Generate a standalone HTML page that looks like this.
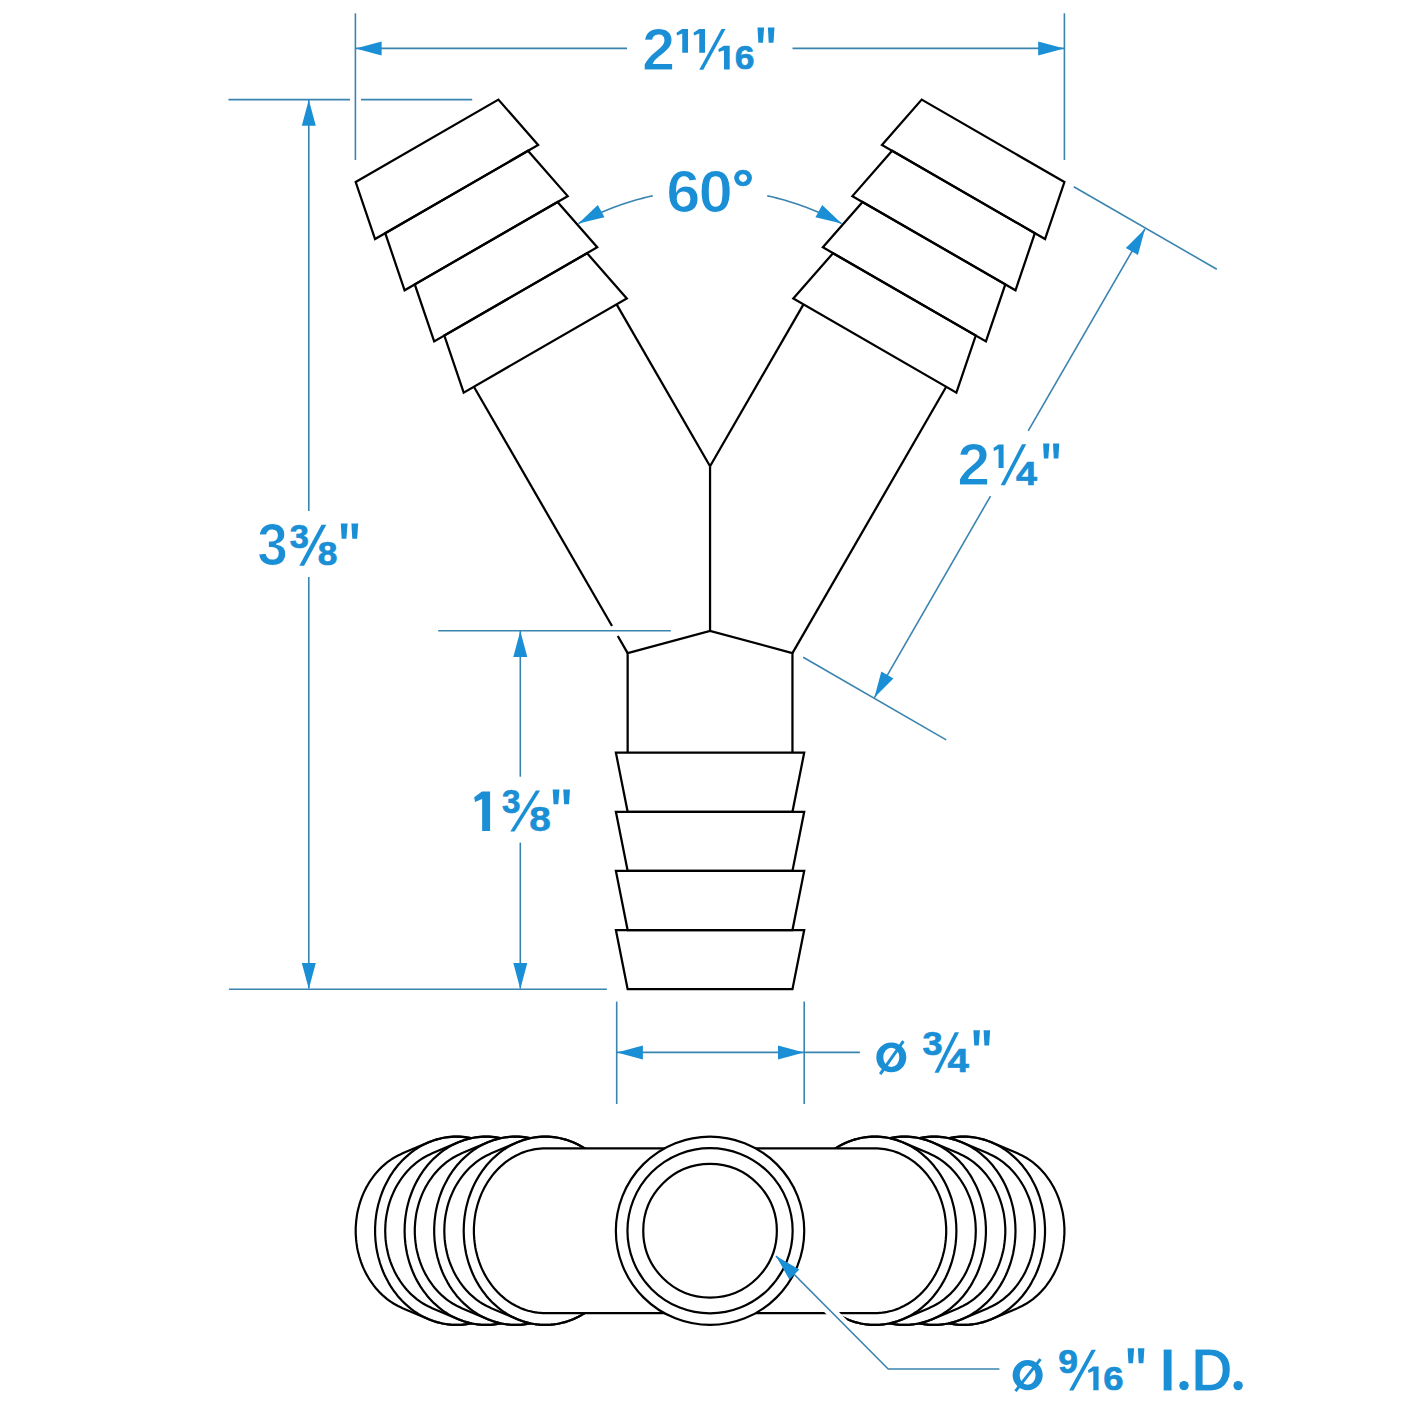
<!DOCTYPE html>
<html><head><meta charset="utf-8"><style>
html,body{margin:0;padding:0;background:#fff;}
svg{display:block;}
</style></head><body>
<svg width="1420" height="1420" viewBox="0 0 1420 1420">
<rect width="1420" height="1420" fill="#fff"/>
<polygon points="355.69,182.03 498.41,99.63 538.14,144.94 375.06,239.09" fill="none" stroke="#000" stroke-width="2.25" stroke-linejoin="miter"/>
<polygon points="385.24,233.21 527.96,150.81 567.69,196.12 404.61,290.27" fill="none" stroke="#000" stroke-width="2.25" stroke-linejoin="miter"/>
<polygon points="414.79,284.39 557.51,201.99 597.24,247.3 434.16,341.45" fill="none" stroke="#000" stroke-width="2.25" stroke-linejoin="miter"/>
<polygon points="444.34,335.58 587.06,253.18 626.79,298.48 463.71,392.63" fill="none" stroke="#000" stroke-width="2.25" stroke-linejoin="miter"/>
<polyline points="473.89,386.76 612.02,626" fill="none" stroke="#000" stroke-width="2.25" stroke-linejoin="miter"/>
<polyline points="617.79,636 627.65,653.08" fill="none" stroke="#000" stroke-width="2.25" stroke-linejoin="miter"/>
<polyline points="616.61,304.36 710.05,466.2" fill="none" stroke="#000" stroke-width="2.25" stroke-linejoin="miter"/>
<polygon points="1064.41,182.03 921.69,99.63 881.96,144.94 1045.04,239.09" fill="none" stroke="#000" stroke-width="2.25" stroke-linejoin="miter"/>
<polygon points="1034.86,233.21 892.14,150.81 852.41,196.12 1015.49,290.27" fill="none" stroke="#000" stroke-width="2.25" stroke-linejoin="miter"/>
<polygon points="1005.31,284.39 862.59,201.99 822.86,247.3 985.94,341.45" fill="none" stroke="#000" stroke-width="2.25" stroke-linejoin="miter"/>
<polygon points="975.76,335.58 833.04,253.18 793.31,298.48 956.39,392.63" fill="none" stroke="#000" stroke-width="2.25" stroke-linejoin="miter"/>
<polyline points="946.21,386.76 792.45,653.08" fill="none" stroke="#000" stroke-width="2.25" stroke-linejoin="miter"/>
<polyline points="803.49,304.36 710.05,466.2" fill="none" stroke="#000" stroke-width="2.25" stroke-linejoin="miter"/>
<polyline points="710.05,466.2 710.05,631" fill="none" stroke="#000" stroke-width="2.25" stroke-linejoin="miter"/>
<polyline points="627.65,752.7 627.65,653.08 710.05,631 792.45,653.08 792.45,752.7" fill="none" stroke="#000" stroke-width="2.25" stroke-linejoin="miter"/>
<polygon points="615.9,752.7 804.2,752.7 792.45,811.8 627.65,811.8" fill="none" stroke="#000" stroke-width="2.25" stroke-linejoin="miter"/>
<polygon points="615.9,811.8 804.2,811.8 792.45,870.9 627.65,870.9" fill="none" stroke="#000" stroke-width="2.25" stroke-linejoin="miter"/>
<polygon points="615.9,870.9 804.2,870.9 792.45,930 627.65,930" fill="none" stroke="#000" stroke-width="2.25" stroke-linejoin="miter"/>
<polygon points="615.9,930 804.2,930 792.45,989.1 627.65,989.1" fill="none" stroke="#000" stroke-width="2.25" stroke-linejoin="miter"/>
<g>
<path d="M355.7,1230.8 L355.7,1227.9 L355.9,1225.0 L356.1,1222.1 L356.4,1219.3 L356.8,1216.4 L357.2,1213.6 L357.8,1210.8 L358.5,1208.0 L359.2,1205.3 L360.0,1202.6 L360.9,1199.9 L361.9,1197.2 L362.9,1194.6 L364.0,1192.1 L365.3,1189.5 L366.5,1187.1 L367.9,1184.7 L369.3,1182.3 L370.8,1180.0 L372.4,1177.8 L374.0,1175.6 L375.7,1173.5 L377.5,1171.5 L379.3,1169.5 L381.2,1167.6 L383.1,1165.8 L385.1,1164.1 L387.1,1162.4 L389.2,1160.9 L391.4,1159.4 L393.5,1158.0 L395.8,1156.7 L398.0,1155.5 L400.3,1154.4 L402.6,1153.3 L428.7,1142.3 L431.4,1141.2 L434.1,1140.2 L436.9,1139.4 L439.6,1138.7 L442.4,1138.0 L445.3,1137.5 L448.1,1137.1 L450.9,1136.8 L453.8,1136.7 L456.6,1136.6 L459.4,1136.7 L462.3,1136.8 L465.1,1137.1 L467.9,1137.5 L470.8,1138.0 L473.6,1138.7 L476.3,1139.4 L479.1,1140.2 L481.8,1141.2 L484.5,1142.3 L487.1,1143.5 L489.8,1144.7 L492.3,1146.1 L494.9,1147.6 L497.4,1149.2 L499.8,1150.9 L502.2,1152.7 L504.5,1154.6 L506.8,1156.6 L509.0,1158.6 L511.2,1160.8 L513.2,1163.0 L515.3,1165.3 L517.2,1167.8 L519.1,1170.2 L520.9,1172.8 L522.6,1175.4 L524.2,1178.1 L525.7,1180.9 L527.2,1183.7 L528.6,1186.5 L529.9,1189.5 L531.1,1192.5 L532.2,1195.5 L533.2,1198.5 L534.1,1201.7 L535.0,1204.8 L535.7,1208.0 L536.4,1211.2 L536.9,1214.4 L537.3,1217.6 L537.7,1220.9 L537.9,1224.2 L538.1,1227.5 L538.1,1230.8 L538.1,1234.0 L537.9,1237.3 L537.7,1240.6 L537.3,1243.9 L536.9,1247.1 L536.4,1250.3 L535.7,1253.5 L535.0,1256.7 L534.1,1259.8 L533.2,1263.0 L532.2,1266.0 L531.1,1269.0 L529.9,1272.0 L528.6,1275.0 L527.2,1277.8 L525.7,1280.6 L524.2,1283.4 L522.6,1286.1 L520.9,1288.7 L519.1,1291.3 L517.2,1293.7 L515.3,1296.2 L513.2,1298.5 L511.2,1300.7 L509.0,1302.9 L506.8,1304.9 L504.5,1306.9 L502.2,1308.8 L499.8,1310.6 L497.4,1312.3 L494.9,1313.9 L492.3,1315.4 L489.8,1316.8 L487.1,1318.0 L484.5,1319.2 L481.8,1320.3 L479.1,1321.3 L476.3,1322.1 L473.6,1322.8 L470.8,1323.5 L467.9,1324.0 L465.1,1324.4 L462.3,1324.7 L459.4,1324.8 L456.6,1324.9 L453.8,1324.8 L450.9,1324.7 L448.1,1324.4 L445.3,1324.0 L442.4,1323.5 L439.6,1322.8 L436.9,1322.1 L434.1,1321.3 L431.4,1320.3 L428.7,1319.2 L402.6,1308.2 L400.3,1307.1 L398.0,1306.0 L395.8,1304.8 L393.5,1303.5 L391.4,1302.1 L389.2,1300.6 L387.1,1299.1 L385.1,1297.4 L383.1,1295.7 L381.2,1293.9 L379.3,1292.0 L377.5,1290.0 L375.7,1288.0 L374.0,1285.9 L372.4,1283.7 L370.8,1281.5 L369.3,1279.2 L367.9,1276.8 L366.5,1274.4 L365.3,1272.0 L364.0,1269.4 L362.9,1266.9 L361.9,1264.3 L360.9,1261.6 L360.0,1258.9 L359.2,1256.2 L358.5,1253.5 L357.8,1250.7 L357.2,1247.9 L356.8,1245.1 L356.4,1242.2 L356.1,1239.4 L355.9,1236.5 L355.7,1233.6Z" fill="#fff" stroke="#000" stroke-width="2.2"/>
<path d="M538.1,1230.8 L538.1,1234.0 L537.9,1237.3 L537.7,1240.6 L537.3,1243.9 L536.9,1247.1 L536.4,1250.3 L535.7,1253.5 L535.0,1256.7 L534.1,1259.8 L533.2,1263.0 L532.2,1266.0 L531.1,1269.0 L529.9,1272.0 L528.6,1275.0 L527.2,1277.8 L525.7,1280.6 L524.2,1283.4 L522.6,1286.1 L520.9,1288.7 L519.1,1291.3 L517.2,1293.7 L515.3,1296.2 L513.2,1298.5 L511.2,1300.7 L509.0,1302.9 L506.8,1304.9 L504.5,1306.9 L502.2,1308.8 L499.8,1310.6 L497.4,1312.3 L494.9,1313.9 L492.3,1315.4 L489.8,1316.8 L487.1,1318.0 L484.5,1319.2 L481.8,1320.3 L479.1,1321.3 L476.3,1322.1 L473.6,1322.8 L470.8,1323.5 L467.9,1324.0 L465.1,1324.4 L462.3,1324.7 L459.4,1324.8 L456.6,1324.9 L453.8,1324.8 L450.9,1324.7 L448.1,1324.4 L445.3,1324.0 L442.4,1323.5 L439.6,1322.8 L436.9,1322.1 L434.1,1321.3 L431.4,1320.3 L428.7,1319.2 L426.1,1318.0 L423.4,1316.8 L420.9,1315.4 L418.3,1313.9 L415.8,1312.3 L413.4,1310.6 L411.0,1308.8 L408.7,1306.9 L406.4,1304.9 L404.2,1302.9 L402.0,1300.7 L400.0,1298.5 L397.9,1296.2 L396.0,1293.7 L394.1,1291.3 L392.3,1288.7 L390.6,1286.1 L389.0,1283.4 L387.5,1280.6 L386.0,1277.8 L384.6,1275.0 L383.3,1272.0 L382.1,1269.0 L381.0,1266.0 L380.0,1263.0 L379.1,1259.8 L378.2,1256.7 L377.5,1253.5 L376.8,1250.3 L376.3,1247.1 L375.9,1243.9 L375.5,1240.6 L375.3,1237.3 L375.1,1234.0 L375.1,1230.8 L375.1,1227.5 L375.3,1224.2 L375.5,1220.9 L375.9,1217.6 L376.3,1214.4 L376.8,1211.2 L377.5,1208.0 L378.2,1204.8 L379.1,1201.7 L380.0,1198.5 L381.0,1195.5 L382.1,1192.5 L383.3,1189.5 L384.6,1186.5 L386.0,1183.7 L387.5,1180.9 L389.0,1178.1 L390.6,1175.4 L392.3,1172.8 L394.1,1170.2 L396.0,1167.8 L397.9,1165.3 L400.0,1163.0 L402.0,1160.8 L404.2,1158.6 L406.4,1156.6 L408.7,1154.6 L411.0,1152.7 L413.4,1150.9 L415.8,1149.2 L418.3,1147.6 L420.9,1146.1 L423.4,1144.7 L426.1,1143.5 L428.7,1142.3 L431.4,1141.2 L434.1,1140.2 L436.9,1139.4 L439.6,1138.7 L442.4,1138.0 L445.3,1137.5 L448.1,1137.1 L450.9,1136.8 L453.8,1136.7 L456.6,1136.6 L459.4,1136.7 L462.3,1136.8 L465.1,1137.1 L467.9,1137.5 L470.8,1138.0 L473.6,1138.7 L476.3,1139.4 L479.1,1140.2 L481.8,1141.2 L484.5,1142.3 L487.1,1143.5 L489.8,1144.7 L492.3,1146.1 L494.9,1147.6 L497.4,1149.2 L499.8,1150.9 L502.2,1152.7 L504.5,1154.6 L506.8,1156.6 L509.0,1158.6 L511.2,1160.8 L513.2,1163.0 L515.3,1165.3 L517.2,1167.8 L519.1,1170.2 L520.9,1172.8 L522.6,1175.4 L524.2,1178.1 L525.7,1180.9 L527.2,1183.7 L528.6,1186.5 L529.9,1189.5 L531.1,1192.5 L532.2,1195.5 L533.2,1198.5 L534.1,1201.7 L535.0,1204.8 L535.7,1208.0 L536.4,1211.2 L536.9,1214.4 L537.3,1217.6 L537.7,1220.9 L537.9,1224.2 L538.1,1227.5Z" fill="none" stroke="#000" stroke-width="2.2"/>
<path d="M385.2,1230.8 L385.3,1227.9 L385.4,1225.0 L385.6,1222.1 L385.9,1219.3 L386.3,1216.4 L386.8,1213.6 L387.4,1210.8 L388.0,1208.0 L388.7,1205.3 L389.5,1202.6 L390.4,1199.9 L391.4,1197.2 L392.5,1194.6 L393.6,1192.1 L394.8,1189.5 L396.1,1187.1 L397.4,1184.7 L398.9,1182.3 L400.4,1180.0 L401.9,1177.8 L403.6,1175.6 L405.3,1173.5 L407.0,1171.5 L408.9,1169.5 L410.7,1167.6 L412.7,1165.8 L414.7,1164.1 L416.7,1162.4 L418.8,1160.9 L420.9,1159.4 L423.1,1158.0 L425.3,1156.7 L427.6,1155.5 L429.9,1154.4 L432.2,1153.3 L458.3,1142.3 L461.0,1141.2 L463.7,1140.2 L466.4,1139.4 L469.2,1138.7 L472.0,1138.0 L474.8,1137.5 L477.6,1137.1 L480.5,1136.8 L483.3,1136.7 L486.1,1136.6 L489.0,1136.7 L491.8,1136.8 L494.7,1137.1 L497.5,1137.5 L500.3,1138.0 L503.1,1138.7 L505.9,1139.4 L508.6,1140.2 L511.3,1141.2 L514.0,1142.3 L516.7,1143.5 L519.3,1144.7 L521.9,1146.1 L524.4,1147.6 L526.9,1149.2 L529.4,1150.9 L531.7,1152.7 L534.1,1154.6 L536.3,1156.6 L538.6,1158.6 L540.7,1160.8 L542.8,1163.0 L544.8,1165.3 L546.7,1167.8 L548.6,1170.2 L550.4,1172.8 L552.1,1175.4 L553.7,1178.1 L555.3,1180.9 L556.8,1183.7 L558.1,1186.5 L559.4,1189.5 L560.6,1192.5 L561.7,1195.5 L562.8,1198.5 L563.7,1201.7 L564.5,1204.8 L565.3,1208.0 L565.9,1211.2 L566.4,1214.4 L566.9,1217.6 L567.2,1220.9 L567.5,1224.2 L567.6,1227.5 L567.7,1230.8 L567.6,1234.0 L567.5,1237.3 L567.2,1240.6 L566.9,1243.9 L566.4,1247.1 L565.9,1250.3 L565.3,1253.5 L564.5,1256.7 L563.7,1259.8 L562.8,1263.0 L561.7,1266.0 L560.6,1269.0 L559.4,1272.0 L558.1,1275.0 L556.8,1277.8 L555.3,1280.6 L553.7,1283.4 L552.1,1286.1 L550.4,1288.7 L548.6,1291.3 L546.7,1293.7 L544.8,1296.2 L542.8,1298.5 L540.7,1300.7 L538.6,1302.9 L536.3,1304.9 L534.1,1306.9 L531.7,1308.8 L529.4,1310.6 L526.9,1312.3 L524.4,1313.9 L521.9,1315.4 L519.3,1316.8 L516.7,1318.0 L514.0,1319.2 L511.3,1320.3 L508.6,1321.3 L505.9,1322.1 L503.1,1322.8 L500.3,1323.5 L497.5,1324.0 L494.7,1324.4 L491.8,1324.7 L489.0,1324.8 L486.1,1324.9 L483.3,1324.8 L480.5,1324.7 L477.6,1324.4 L474.8,1324.0 L472.0,1323.5 L469.2,1322.8 L466.4,1322.1 L463.7,1321.3 L461.0,1320.3 L458.3,1319.2 L432.2,1308.2 L429.9,1307.1 L427.6,1306.0 L425.3,1304.8 L423.1,1303.5 L420.9,1302.1 L418.8,1300.6 L416.7,1299.1 L414.7,1297.4 L412.7,1295.7 L410.7,1293.9 L408.9,1292.0 L407.0,1290.0 L405.3,1288.0 L403.6,1285.9 L401.9,1283.7 L400.4,1281.5 L398.9,1279.2 L397.4,1276.8 L396.1,1274.4 L394.8,1272.0 L393.6,1269.4 L392.5,1266.9 L391.4,1264.3 L390.4,1261.6 L389.5,1258.9 L388.7,1256.2 L388.0,1253.5 L387.4,1250.7 L386.8,1247.9 L386.3,1245.1 L385.9,1242.2 L385.6,1239.4 L385.4,1236.5 L385.3,1233.6Z" fill="#fff" stroke="#000" stroke-width="2.2"/>
<path d="M567.7,1230.8 L567.6,1234.0 L567.5,1237.3 L567.2,1240.6 L566.9,1243.9 L566.4,1247.1 L565.9,1250.3 L565.3,1253.5 L564.5,1256.7 L563.7,1259.8 L562.8,1263.0 L561.7,1266.0 L560.6,1269.0 L559.4,1272.0 L558.1,1275.0 L556.8,1277.8 L555.3,1280.6 L553.7,1283.4 L552.1,1286.1 L550.4,1288.7 L548.6,1291.3 L546.7,1293.7 L544.8,1296.2 L542.8,1298.5 L540.7,1300.7 L538.6,1302.9 L536.3,1304.9 L534.1,1306.9 L531.7,1308.8 L529.4,1310.6 L526.9,1312.3 L524.4,1313.9 L521.9,1315.4 L519.3,1316.8 L516.7,1318.0 L514.0,1319.2 L511.3,1320.3 L508.6,1321.3 L505.9,1322.1 L503.1,1322.8 L500.3,1323.5 L497.5,1324.0 L494.7,1324.4 L491.8,1324.7 L489.0,1324.8 L486.1,1324.9 L483.3,1324.8 L480.5,1324.7 L477.6,1324.4 L474.8,1324.0 L472.0,1323.5 L469.2,1322.8 L466.4,1322.1 L463.7,1321.3 L461.0,1320.3 L458.3,1319.2 L455.6,1318.0 L453.0,1316.8 L450.4,1315.4 L447.9,1313.9 L445.4,1312.3 L442.9,1310.6 L440.6,1308.8 L438.2,1306.9 L436.0,1304.9 L433.7,1302.9 L431.6,1300.7 L429.5,1298.5 L427.5,1296.2 L425.6,1293.7 L423.7,1291.3 L421.9,1288.7 L420.2,1286.1 L418.6,1283.4 L417.0,1280.6 L415.5,1277.8 L414.2,1275.0 L412.9,1272.0 L411.7,1269.0 L410.6,1266.0 L409.5,1263.0 L408.6,1259.8 L407.8,1256.7 L407.0,1253.5 L406.4,1250.3 L405.9,1247.1 L405.4,1243.9 L405.1,1240.6 L404.8,1237.3 L404.7,1234.0 L404.6,1230.8 L404.7,1227.5 L404.8,1224.2 L405.1,1220.9 L405.4,1217.6 L405.9,1214.4 L406.4,1211.2 L407.0,1208.0 L407.8,1204.8 L408.6,1201.7 L409.5,1198.5 L410.6,1195.5 L411.7,1192.5 L412.9,1189.5 L414.2,1186.5 L415.5,1183.7 L417.0,1180.9 L418.6,1178.1 L420.2,1175.4 L421.9,1172.8 L423.7,1170.2 L425.6,1167.8 L427.5,1165.3 L429.5,1163.0 L431.6,1160.8 L433.7,1158.6 L436.0,1156.6 L438.2,1154.6 L440.6,1152.7 L442.9,1150.9 L445.4,1149.2 L447.9,1147.6 L450.4,1146.1 L453.0,1144.7 L455.6,1143.5 L458.3,1142.3 L461.0,1141.2 L463.7,1140.2 L466.4,1139.4 L469.2,1138.7 L472.0,1138.0 L474.8,1137.5 L477.6,1137.1 L480.5,1136.8 L483.3,1136.7 L486.1,1136.6 L489.0,1136.7 L491.8,1136.8 L494.7,1137.1 L497.5,1137.5 L500.3,1138.0 L503.1,1138.7 L505.9,1139.4 L508.6,1140.2 L511.3,1141.2 L514.0,1142.3 L516.7,1143.5 L519.3,1144.7 L521.9,1146.1 L524.4,1147.6 L526.9,1149.2 L529.4,1150.9 L531.7,1152.7 L534.1,1154.6 L536.3,1156.6 L538.6,1158.6 L540.7,1160.8 L542.8,1163.0 L544.8,1165.3 L546.7,1167.8 L548.6,1170.2 L550.4,1172.8 L552.1,1175.4 L553.7,1178.1 L555.3,1180.9 L556.8,1183.7 L558.1,1186.5 L559.4,1189.5 L560.6,1192.5 L561.7,1195.5 L562.8,1198.5 L563.7,1201.7 L564.5,1204.8 L565.3,1208.0 L565.9,1211.2 L566.4,1214.4 L566.9,1217.6 L567.2,1220.9 L567.5,1224.2 L567.6,1227.5Z" fill="none" stroke="#000" stroke-width="2.2"/>
<path d="M414.8,1230.8 L414.8,1227.9 L415.0,1225.0 L415.2,1222.1 L415.5,1219.3 L415.9,1216.4 L416.3,1213.6 L416.9,1210.8 L417.6,1208.0 L418.3,1205.3 L419.1,1202.6 L420.0,1199.9 L421.0,1197.2 L422.0,1194.6 L423.1,1192.1 L424.4,1189.5 L425.6,1187.1 L427.0,1184.7 L428.4,1182.3 L429.9,1180.0 L431.5,1177.8 L433.1,1175.6 L434.8,1173.5 L436.6,1171.5 L438.4,1169.5 L440.3,1167.6 L442.2,1165.8 L444.2,1164.1 L446.2,1162.4 L448.3,1160.9 L450.5,1159.4 L452.6,1158.0 L454.9,1156.7 L457.1,1155.5 L459.4,1154.4 L461.7,1153.3 L487.8,1142.3 L490.5,1141.2 L493.2,1140.2 L496.0,1139.4 L498.7,1138.7 L501.5,1138.0 L504.4,1137.5 L507.2,1137.1 L510.0,1136.8 L512.9,1136.7 L515.7,1136.6 L518.5,1136.7 L521.4,1136.8 L524.2,1137.1 L527.0,1137.5 L529.9,1138.0 L532.7,1138.7 L535.4,1139.4 L538.2,1140.2 L540.9,1141.2 L543.6,1142.3 L546.2,1143.5 L548.9,1144.7 L551.4,1146.1 L554.0,1147.6 L556.5,1149.2 L558.9,1150.9 L561.3,1152.7 L563.6,1154.6 L565.9,1156.6 L568.1,1158.6 L570.3,1160.8 L572.3,1163.0 L574.4,1165.3 L576.3,1167.8 L578.2,1170.2 L580.0,1172.8 L581.7,1175.4 L583.3,1178.1 L584.8,1180.9 L586.3,1183.7 L587.7,1186.5 L589.0,1189.5 L590.2,1192.5 L591.3,1195.5 L592.3,1198.5 L593.2,1201.7 L594.1,1204.8 L594.8,1208.0 L595.5,1211.2 L596.0,1214.4 L596.4,1217.6 L596.8,1220.9 L597.0,1224.2 L597.2,1227.5 L597.2,1230.8 L597.2,1234.0 L597.0,1237.3 L596.8,1240.6 L596.4,1243.9 L596.0,1247.1 L595.5,1250.3 L594.8,1253.5 L594.1,1256.7 L593.2,1259.8 L592.3,1263.0 L591.3,1266.0 L590.2,1269.0 L589.0,1272.0 L587.7,1275.0 L586.3,1277.8 L584.8,1280.6 L583.3,1283.4 L581.7,1286.1 L580.0,1288.7 L578.2,1291.3 L576.3,1293.7 L574.4,1296.2 L572.3,1298.5 L570.3,1300.7 L568.1,1302.9 L565.9,1304.9 L563.6,1306.9 L561.3,1308.8 L558.9,1310.6 L556.5,1312.3 L554.0,1313.9 L551.4,1315.4 L548.9,1316.8 L546.2,1318.0 L543.6,1319.2 L540.9,1320.3 L538.2,1321.3 L535.4,1322.1 L532.7,1322.8 L529.9,1323.5 L527.0,1324.0 L524.2,1324.4 L521.4,1324.7 L518.5,1324.8 L515.7,1324.9 L512.9,1324.8 L510.0,1324.7 L507.2,1324.4 L504.4,1324.0 L501.5,1323.5 L498.7,1322.8 L496.0,1322.1 L493.2,1321.3 L490.5,1320.3 L487.8,1319.2 L461.7,1308.2 L459.4,1307.1 L457.1,1306.0 L454.9,1304.8 L452.6,1303.5 L450.5,1302.1 L448.3,1300.6 L446.2,1299.1 L444.2,1297.4 L442.2,1295.7 L440.3,1293.9 L438.4,1292.0 L436.6,1290.0 L434.8,1288.0 L433.1,1285.9 L431.5,1283.7 L429.9,1281.5 L428.4,1279.2 L427.0,1276.8 L425.6,1274.4 L424.4,1272.0 L423.1,1269.4 L422.0,1266.9 L421.0,1264.3 L420.0,1261.6 L419.1,1258.9 L418.3,1256.2 L417.6,1253.5 L416.9,1250.7 L416.3,1247.9 L415.9,1245.1 L415.5,1242.2 L415.2,1239.4 L415.0,1236.5 L414.8,1233.6Z" fill="#fff" stroke="#000" stroke-width="2.2"/>
<path d="M597.2,1230.8 L597.2,1234.0 L597.0,1237.3 L596.8,1240.6 L596.4,1243.9 L596.0,1247.1 L595.5,1250.3 L594.8,1253.5 L594.1,1256.7 L593.2,1259.8 L592.3,1263.0 L591.3,1266.0 L590.2,1269.0 L589.0,1272.0 L587.7,1275.0 L586.3,1277.8 L584.8,1280.6 L583.3,1283.4 L581.7,1286.1 L580.0,1288.7 L578.2,1291.3 L576.3,1293.7 L574.4,1296.2 L572.3,1298.5 L570.3,1300.7 L568.1,1302.9 L565.9,1304.9 L563.6,1306.9 L561.3,1308.8 L558.9,1310.6 L556.5,1312.3 L554.0,1313.9 L551.4,1315.4 L548.9,1316.8 L546.2,1318.0 L543.6,1319.2 L540.9,1320.3 L538.2,1321.3 L535.4,1322.1 L532.7,1322.8 L529.9,1323.5 L527.0,1324.0 L524.2,1324.4 L521.4,1324.7 L518.5,1324.8 L515.7,1324.9 L512.9,1324.8 L510.0,1324.7 L507.2,1324.4 L504.4,1324.0 L501.5,1323.5 L498.7,1322.8 L496.0,1322.1 L493.2,1321.3 L490.5,1320.3 L487.8,1319.2 L485.2,1318.0 L482.5,1316.8 L480.0,1315.4 L477.4,1313.9 L474.9,1312.3 L472.5,1310.6 L470.1,1308.8 L467.8,1306.9 L465.5,1304.9 L463.3,1302.9 L461.1,1300.7 L459.1,1298.5 L457.0,1296.2 L455.1,1293.7 L453.2,1291.3 L451.4,1288.7 L449.7,1286.1 L448.1,1283.4 L446.6,1280.6 L445.1,1277.8 L443.7,1275.0 L442.4,1272.0 L441.2,1269.0 L440.1,1266.0 L439.1,1263.0 L438.2,1259.8 L437.3,1256.7 L436.6,1253.5 L435.9,1250.3 L435.4,1247.1 L435.0,1243.9 L434.6,1240.6 L434.4,1237.3 L434.2,1234.0 L434.2,1230.8 L434.2,1227.5 L434.4,1224.2 L434.6,1220.9 L435.0,1217.6 L435.4,1214.4 L435.9,1211.2 L436.6,1208.0 L437.3,1204.8 L438.2,1201.7 L439.1,1198.5 L440.1,1195.5 L441.2,1192.5 L442.4,1189.5 L443.7,1186.5 L445.1,1183.7 L446.6,1180.9 L448.1,1178.1 L449.7,1175.4 L451.4,1172.8 L453.2,1170.2 L455.1,1167.8 L457.0,1165.3 L459.1,1163.0 L461.1,1160.8 L463.3,1158.6 L465.5,1156.6 L467.8,1154.6 L470.1,1152.7 L472.5,1150.9 L474.9,1149.2 L477.4,1147.6 L480.0,1146.1 L482.5,1144.7 L485.2,1143.5 L487.8,1142.3 L490.5,1141.2 L493.2,1140.2 L496.0,1139.4 L498.7,1138.7 L501.5,1138.0 L504.4,1137.5 L507.2,1137.1 L510.0,1136.8 L512.9,1136.7 L515.7,1136.6 L518.5,1136.7 L521.4,1136.8 L524.2,1137.1 L527.0,1137.5 L529.9,1138.0 L532.7,1138.7 L535.4,1139.4 L538.2,1140.2 L540.9,1141.2 L543.6,1142.3 L546.2,1143.5 L548.9,1144.7 L551.4,1146.1 L554.0,1147.6 L556.5,1149.2 L558.9,1150.9 L561.3,1152.7 L563.6,1154.6 L565.9,1156.6 L568.1,1158.6 L570.3,1160.8 L572.3,1163.0 L574.4,1165.3 L576.3,1167.8 L578.2,1170.2 L580.0,1172.8 L581.7,1175.4 L583.3,1178.1 L584.8,1180.9 L586.3,1183.7 L587.7,1186.5 L589.0,1189.5 L590.2,1192.5 L591.3,1195.5 L592.3,1198.5 L593.2,1201.7 L594.1,1204.8 L594.8,1208.0 L595.5,1211.2 L596.0,1214.4 L596.4,1217.6 L596.8,1220.9 L597.0,1224.2 L597.2,1227.5Z" fill="none" stroke="#000" stroke-width="2.2"/>
<path d="M444.3,1230.8 L444.4,1227.9 L444.5,1225.0 L444.7,1222.1 L445.0,1219.3 L445.4,1216.4 L445.9,1213.6 L446.5,1210.8 L447.1,1208.0 L447.8,1205.3 L448.6,1202.6 L449.5,1199.9 L450.5,1197.2 L451.6,1194.6 L452.7,1192.1 L453.9,1189.5 L455.2,1187.1 L456.5,1184.7 L458.0,1182.3 L459.5,1180.0 L461.0,1177.8 L462.7,1175.6 L464.4,1173.5 L466.1,1171.5 L468.0,1169.5 L469.8,1167.6 L471.8,1165.8 L473.8,1164.1 L475.8,1162.4 L477.9,1160.9 L480.0,1159.4 L482.2,1158.0 L484.4,1156.7 L486.7,1155.5 L489.0,1154.4 L491.3,1153.3 L517.4,1142.3 L520.1,1141.2 L522.8,1140.2 L525.5,1139.4 L528.3,1138.7 L531.1,1138.0 L533.9,1137.5 L536.7,1137.1 L539.6,1136.8 L542.4,1136.7 L545.2,1136.6 L548.1,1136.7 L550.9,1136.8 L553.8,1137.1 L556.6,1137.5 L559.4,1138.0 L562.2,1138.7 L565.0,1139.4 L567.7,1140.2 L570.4,1141.2 L573.1,1142.3 L575.8,1143.5 L578.4,1144.7 L581.0,1146.1 L583.5,1147.6 L586.0,1149.2 L588.5,1150.9 L590.8,1152.7 L593.2,1154.6 L595.4,1156.6 L597.7,1158.6 L599.8,1160.8 L601.9,1163.0 L603.9,1165.3 L605.8,1167.8 L607.7,1170.2 L609.5,1172.8 L611.2,1175.4 L612.8,1178.1 L614.4,1180.9 L615.9,1183.7 L617.2,1186.5 L618.5,1189.5 L619.7,1192.5 L620.8,1195.5 L621.9,1198.5 L622.8,1201.7 L623.6,1204.8 L624.4,1208.0 L625.0,1211.2 L625.5,1214.4 L626.0,1217.6 L626.3,1220.9 L626.6,1224.2 L626.7,1227.5 L626.8,1230.8 L626.7,1234.0 L626.6,1237.3 L626.3,1240.6 L626.0,1243.9 L625.5,1247.1 L625.0,1250.3 L624.4,1253.5 L623.6,1256.7 L622.8,1259.8 L621.9,1263.0 L620.8,1266.0 L619.7,1269.0 L618.5,1272.0 L617.2,1275.0 L615.9,1277.8 L614.4,1280.6 L612.8,1283.4 L611.2,1286.1 L609.5,1288.7 L607.7,1291.3 L605.8,1293.7 L603.9,1296.2 L601.9,1298.5 L599.8,1300.7 L597.7,1302.9 L595.4,1304.9 L593.2,1306.9 L590.8,1308.8 L588.5,1310.6 L586.0,1312.3 L583.5,1313.9 L581.0,1315.4 L578.4,1316.8 L575.8,1318.0 L573.1,1319.2 L570.4,1320.3 L567.7,1321.3 L565.0,1322.1 L562.2,1322.8 L559.4,1323.5 L556.6,1324.0 L553.8,1324.4 L550.9,1324.7 L548.1,1324.8 L545.2,1324.9 L542.4,1324.8 L539.6,1324.7 L536.7,1324.4 L533.9,1324.0 L531.1,1323.5 L528.3,1322.8 L525.5,1322.1 L522.8,1321.3 L520.1,1320.3 L517.4,1319.2 L491.3,1308.2 L489.0,1307.1 L486.7,1306.0 L484.4,1304.8 L482.2,1303.5 L480.0,1302.1 L477.9,1300.6 L475.8,1299.1 L473.8,1297.4 L471.8,1295.7 L469.8,1293.9 L468.0,1292.0 L466.1,1290.0 L464.4,1288.0 L462.7,1285.9 L461.0,1283.7 L459.5,1281.5 L458.0,1279.2 L456.5,1276.8 L455.2,1274.4 L453.9,1272.0 L452.7,1269.4 L451.6,1266.9 L450.5,1264.3 L449.5,1261.6 L448.6,1258.9 L447.8,1256.2 L447.1,1253.5 L446.5,1250.7 L445.9,1247.9 L445.4,1245.1 L445.0,1242.2 L444.7,1239.4 L444.5,1236.5 L444.4,1233.6Z" fill="#fff" stroke="#000" stroke-width="2.2"/>
<path d="M626.8,1230.8 L626.7,1234.0 L626.6,1237.3 L626.3,1240.6 L626.0,1243.9 L625.5,1247.1 L625.0,1250.3 L624.4,1253.5 L623.6,1256.7 L622.8,1259.8 L621.9,1263.0 L620.8,1266.0 L619.7,1269.0 L618.5,1272.0 L617.2,1275.0 L615.9,1277.8 L614.4,1280.6 L612.8,1283.4 L611.2,1286.1 L609.5,1288.7 L607.7,1291.3 L605.8,1293.7 L603.9,1296.2 L601.9,1298.5 L599.8,1300.7 L597.7,1302.9 L595.4,1304.9 L593.2,1306.9 L590.8,1308.8 L588.5,1310.6 L586.0,1312.3 L583.5,1313.9 L581.0,1315.4 L578.4,1316.8 L575.8,1318.0 L573.1,1319.2 L570.4,1320.3 L567.7,1321.3 L565.0,1322.1 L562.2,1322.8 L559.4,1323.5 L556.6,1324.0 L553.8,1324.4 L550.9,1324.7 L548.1,1324.8 L545.2,1324.9 L542.4,1324.8 L539.6,1324.7 L536.7,1324.4 L533.9,1324.0 L531.1,1323.5 L528.3,1322.8 L525.5,1322.1 L522.8,1321.3 L520.1,1320.3 L517.4,1319.2 L514.7,1318.0 L512.1,1316.8 L509.5,1315.4 L507.0,1313.9 L504.5,1312.3 L502.0,1310.6 L499.7,1308.8 L497.3,1306.9 L495.1,1304.9 L492.8,1302.9 L490.7,1300.7 L488.6,1298.5 L486.6,1296.2 L484.7,1293.7 L482.8,1291.3 L481.0,1288.7 L479.3,1286.1 L477.7,1283.4 L476.1,1280.6 L474.6,1277.8 L473.3,1275.0 L472.0,1272.0 L470.8,1269.0 L469.7,1266.0 L468.6,1263.0 L467.7,1259.8 L466.9,1256.7 L466.1,1253.5 L465.5,1250.3 L465.0,1247.1 L464.5,1243.9 L464.2,1240.6 L463.9,1237.3 L463.8,1234.0 L463.7,1230.8 L463.8,1227.5 L463.9,1224.2 L464.2,1220.9 L464.5,1217.6 L465.0,1214.4 L465.5,1211.2 L466.1,1208.0 L466.9,1204.8 L467.7,1201.7 L468.6,1198.5 L469.7,1195.5 L470.8,1192.5 L472.0,1189.5 L473.3,1186.5 L474.6,1183.7 L476.1,1180.9 L477.7,1178.1 L479.3,1175.4 L481.0,1172.8 L482.8,1170.2 L484.7,1167.8 L486.6,1165.3 L488.6,1163.0 L490.7,1160.8 L492.8,1158.6 L495.1,1156.6 L497.3,1154.6 L499.7,1152.7 L502.0,1150.9 L504.5,1149.2 L507.0,1147.6 L509.5,1146.1 L512.1,1144.7 L514.7,1143.5 L517.4,1142.3 L520.1,1141.2 L522.8,1140.2 L525.5,1139.4 L528.3,1138.7 L531.1,1138.0 L533.9,1137.5 L536.7,1137.1 L539.6,1136.8 L542.4,1136.7 L545.2,1136.6 L548.1,1136.7 L550.9,1136.8 L553.8,1137.1 L556.6,1137.5 L559.4,1138.0 L562.2,1138.7 L565.0,1139.4 L567.7,1140.2 L570.4,1141.2 L573.1,1142.3 L575.8,1143.5 L578.4,1144.7 L581.0,1146.1 L583.5,1147.6 L586.0,1149.2 L588.5,1150.9 L590.8,1152.7 L593.2,1154.6 L595.4,1156.6 L597.7,1158.6 L599.8,1160.8 L601.9,1163.0 L603.9,1165.3 L605.8,1167.8 L607.7,1170.2 L609.5,1172.8 L611.2,1175.4 L612.8,1178.1 L614.4,1180.9 L615.9,1183.7 L617.2,1186.5 L618.5,1189.5 L619.7,1192.5 L620.8,1195.5 L621.9,1198.5 L622.8,1201.7 L623.6,1204.8 L624.4,1208.0 L625.0,1211.2 L625.5,1214.4 L626.0,1217.6 L626.3,1220.9 L626.6,1224.2 L626.7,1227.5Z" fill="none" stroke="#000" stroke-width="2.2"/>
<path d="M473.9,1230.8 L473.9,1227.9 L474.1,1225.0 L474.3,1222.1 L474.6,1219.3 L475.0,1216.4 L475.4,1213.6 L476.0,1210.8 L476.7,1208.0 L477.4,1205.3 L478.2,1202.6 L479.1,1199.9 L480.1,1197.2 L481.1,1194.6 L482.2,1192.1 L483.5,1189.5 L484.7,1187.1 L486.1,1184.7 L487.5,1182.3 L489.0,1180.0 L490.6,1177.8 L492.2,1175.6 L493.9,1173.5 L495.7,1171.5 L497.5,1169.5 L499.4,1167.6 L501.3,1165.8 L503.3,1164.1 L505.3,1162.4 L507.4,1160.9 L509.6,1159.4 L511.7,1158.0 L514.0,1156.7 L516.2,1155.5 L518.5,1154.4 L520.8,1153.3 L523.2,1152.4 L525.6,1151.5 L528.0,1150.8 L530.4,1150.2 L532.9,1149.6 L535.3,1149.2 L537.8,1148.8 L540.3,1148.6 L542.8,1148.4 L545.2,1148.3 L710.0,1148.3 L710.0,1313.2 L545.2,1313.2 L542.8,1313.1 L540.3,1312.9 L537.8,1312.7 L535.3,1312.3 L532.9,1311.9 L530.4,1311.3 L528.0,1310.7 L525.6,1310.0 L523.2,1309.1 L520.8,1308.2 L518.5,1307.1 L516.2,1306.0 L514.0,1304.8 L511.7,1303.5 L509.6,1302.1 L507.4,1300.6 L505.3,1299.1 L503.3,1297.4 L501.3,1295.7 L499.4,1293.9 L497.5,1292.0 L495.7,1290.0 L493.9,1288.0 L492.2,1285.9 L490.6,1283.7 L489.0,1281.5 L487.5,1279.2 L486.1,1276.8 L484.7,1274.4 L483.5,1272.0 L482.2,1269.4 L481.1,1266.9 L480.1,1264.3 L479.1,1261.6 L478.2,1258.9 L477.4,1256.2 L476.7,1253.5 L476.0,1250.7 L475.4,1247.9 L475.0,1245.1 L474.6,1242.2 L474.3,1239.4 L474.1,1236.5 L473.9,1233.6Z" fill="#fff" stroke="#000" stroke-width="2.2"/>
<path d="M882.0,1230.8 L882.0,1227.5 L882.2,1224.2 L882.4,1220.9 L882.8,1217.6 L883.2,1214.4 L883.7,1211.2 L884.4,1208.0 L885.1,1204.8 L886.0,1201.7 L886.9,1198.5 L887.9,1195.5 L889.0,1192.5 L890.2,1189.5 L891.5,1186.5 L892.9,1183.7 L894.4,1180.9 L895.9,1178.1 L897.5,1175.4 L899.2,1172.8 L901.0,1170.2 L902.9,1167.8 L904.8,1165.3 L906.9,1163.0 L908.9,1160.8 L911.1,1158.6 L913.3,1156.6 L915.6,1154.6 L917.9,1152.7 L920.3,1150.9 L922.7,1149.2 L925.2,1147.6 L927.8,1146.1 L930.3,1144.7 L933.0,1143.5 L935.6,1142.3 L938.3,1141.2 L941.0,1140.2 L943.8,1139.4 L946.5,1138.7 L949.3,1138.0 L952.2,1137.5 L955.0,1137.1 L957.8,1136.8 L960.7,1136.7 L963.5,1136.6 L966.3,1136.7 L969.2,1136.8 L972.0,1137.1 L974.8,1137.5 L977.7,1138.0 L980.5,1138.7 L983.2,1139.4 L986.0,1140.2 L988.7,1141.2 L991.4,1142.3 L1017.5,1153.3 L1019.8,1154.4 L1022.1,1155.5 L1024.3,1156.7 L1026.6,1158.0 L1028.7,1159.4 L1030.9,1160.9 L1033.0,1162.4 L1035.0,1164.1 L1037.0,1165.8 L1038.9,1167.6 L1040.8,1169.5 L1042.6,1171.5 L1044.4,1173.5 L1046.1,1175.6 L1047.7,1177.8 L1049.3,1180.0 L1050.8,1182.3 L1052.2,1184.7 L1053.6,1187.1 L1054.8,1189.5 L1056.1,1192.1 L1057.2,1194.6 L1058.2,1197.2 L1059.2,1199.9 L1060.1,1202.6 L1060.9,1205.3 L1061.6,1208.0 L1062.3,1210.8 L1062.9,1213.6 L1063.3,1216.4 L1063.7,1219.3 L1064.0,1222.1 L1064.2,1225.0 L1064.4,1227.9 L1064.4,1230.8 L1064.4,1233.6 L1064.2,1236.5 L1064.0,1239.4 L1063.7,1242.2 L1063.3,1245.1 L1062.9,1247.9 L1062.3,1250.7 L1061.6,1253.5 L1060.9,1256.2 L1060.1,1258.9 L1059.2,1261.6 L1058.2,1264.3 L1057.2,1266.9 L1056.1,1269.4 L1054.8,1272.0 L1053.6,1274.4 L1052.2,1276.8 L1050.8,1279.2 L1049.3,1281.5 L1047.7,1283.7 L1046.1,1285.9 L1044.4,1288.0 L1042.6,1290.0 L1040.8,1292.0 L1038.9,1293.9 L1037.0,1295.7 L1035.0,1297.4 L1033.0,1299.1 L1030.9,1300.6 L1028.7,1302.1 L1026.6,1303.5 L1024.3,1304.8 L1022.1,1306.0 L1019.8,1307.1 L1017.5,1308.2 L991.4,1319.2 L988.7,1320.3 L986.0,1321.3 L983.2,1322.1 L980.5,1322.8 L977.7,1323.5 L974.8,1324.0 L972.0,1324.4 L969.2,1324.7 L966.3,1324.8 L963.5,1324.9 L960.7,1324.8 L957.8,1324.7 L955.0,1324.4 L952.2,1324.0 L949.3,1323.5 L946.5,1322.8 L943.8,1322.1 L941.0,1321.3 L938.3,1320.3 L935.6,1319.2 L933.0,1318.0 L930.3,1316.8 L927.8,1315.4 L925.2,1313.9 L922.7,1312.3 L920.3,1310.6 L917.9,1308.8 L915.6,1306.9 L913.3,1304.9 L911.1,1302.9 L908.9,1300.7 L906.9,1298.5 L904.8,1296.2 L902.9,1293.7 L901.0,1291.3 L899.2,1288.7 L897.5,1286.1 L895.9,1283.4 L894.4,1280.6 L892.9,1277.8 L891.5,1275.0 L890.2,1272.0 L889.0,1269.0 L887.9,1266.0 L886.9,1263.0 L886.0,1259.8 L885.1,1256.7 L884.4,1253.5 L883.7,1250.3 L883.2,1247.1 L882.8,1243.9 L882.4,1240.6 L882.2,1237.3 L882.0,1234.0Z" fill="#fff" stroke="#000" stroke-width="2.2"/>
<path d="M1045.0,1230.8 L1045.0,1234.0 L1044.8,1237.3 L1044.6,1240.6 L1044.2,1243.9 L1043.8,1247.1 L1043.3,1250.3 L1042.6,1253.5 L1041.9,1256.7 L1041.0,1259.8 L1040.1,1263.0 L1039.1,1266.0 L1038.0,1269.0 L1036.8,1272.0 L1035.5,1275.0 L1034.1,1277.8 L1032.6,1280.6 L1031.1,1283.4 L1029.5,1286.1 L1027.8,1288.7 L1026.0,1291.3 L1024.1,1293.7 L1022.2,1296.2 L1020.1,1298.5 L1018.1,1300.7 L1015.9,1302.9 L1013.7,1304.9 L1011.4,1306.9 L1009.1,1308.8 L1006.7,1310.6 L1004.3,1312.3 L1001.8,1313.9 L999.2,1315.4 L996.7,1316.8 L994.0,1318.0 L991.4,1319.2 L988.7,1320.3 L986.0,1321.3 L983.2,1322.1 L980.5,1322.8 L977.7,1323.5 L974.8,1324.0 L972.0,1324.4 L969.2,1324.7 L966.3,1324.8 L963.5,1324.9 L960.7,1324.8 L957.8,1324.7 L955.0,1324.4 L952.2,1324.0 L949.3,1323.5 L946.5,1322.8 L943.8,1322.1 L941.0,1321.3 L938.3,1320.3 L935.6,1319.2 L933.0,1318.0 L930.3,1316.8 L927.8,1315.4 L925.2,1313.9 L922.7,1312.3 L920.3,1310.6 L917.9,1308.8 L915.6,1306.9 L913.3,1304.9 L911.1,1302.9 L908.9,1300.7 L906.9,1298.5 L904.8,1296.2 L902.9,1293.7 L901.0,1291.3 L899.2,1288.7 L897.5,1286.1 L895.9,1283.4 L894.4,1280.6 L892.9,1277.8 L891.5,1275.0 L890.2,1272.0 L889.0,1269.0 L887.9,1266.0 L886.9,1263.0 L886.0,1259.8 L885.1,1256.7 L884.4,1253.5 L883.7,1250.3 L883.2,1247.1 L882.8,1243.9 L882.4,1240.6 L882.2,1237.3 L882.0,1234.0 L882.0,1230.8 L882.0,1227.5 L882.2,1224.2 L882.4,1220.9 L882.8,1217.6 L883.2,1214.4 L883.7,1211.2 L884.4,1208.0 L885.1,1204.8 L886.0,1201.7 L886.9,1198.5 L887.9,1195.5 L889.0,1192.5 L890.2,1189.5 L891.5,1186.5 L892.9,1183.7 L894.4,1180.9 L895.9,1178.1 L897.5,1175.4 L899.2,1172.8 L901.0,1170.2 L902.9,1167.8 L904.8,1165.3 L906.9,1163.0 L908.9,1160.8 L911.1,1158.6 L913.3,1156.6 L915.6,1154.6 L917.9,1152.7 L920.3,1150.9 L922.7,1149.2 L925.2,1147.6 L927.8,1146.1 L930.3,1144.7 L933.0,1143.5 L935.6,1142.3 L938.3,1141.2 L941.0,1140.2 L943.8,1139.4 L946.5,1138.7 L949.3,1138.0 L952.2,1137.5 L955.0,1137.1 L957.8,1136.8 L960.7,1136.7 L963.5,1136.6 L966.3,1136.7 L969.2,1136.8 L972.0,1137.1 L974.8,1137.5 L977.7,1138.0 L980.5,1138.7 L983.2,1139.4 L986.0,1140.2 L988.7,1141.2 L991.4,1142.3 L994.0,1143.5 L996.7,1144.7 L999.2,1146.1 L1001.8,1147.6 L1004.3,1149.2 L1006.7,1150.9 L1009.1,1152.7 L1011.4,1154.6 L1013.7,1156.6 L1015.9,1158.6 L1018.1,1160.8 L1020.1,1163.0 L1022.2,1165.3 L1024.1,1167.8 L1026.0,1170.2 L1027.8,1172.8 L1029.5,1175.4 L1031.1,1178.1 L1032.6,1180.9 L1034.1,1183.7 L1035.5,1186.5 L1036.8,1189.5 L1038.0,1192.5 L1039.1,1195.5 L1040.1,1198.5 L1041.0,1201.7 L1041.9,1204.8 L1042.6,1208.0 L1043.3,1211.2 L1043.8,1214.4 L1044.2,1217.6 L1044.6,1220.9 L1044.8,1224.2 L1045.0,1227.5Z" fill="none" stroke="#000" stroke-width="2.2"/>
<path d="M852.4,1230.8 L852.5,1227.5 L852.6,1224.2 L852.9,1220.9 L853.2,1217.6 L853.7,1214.4 L854.2,1211.2 L854.8,1208.0 L855.6,1204.8 L856.4,1201.7 L857.3,1198.5 L858.4,1195.5 L859.5,1192.5 L860.7,1189.5 L862.0,1186.5 L863.3,1183.7 L864.8,1180.9 L866.4,1178.1 L868.0,1175.4 L869.7,1172.8 L871.5,1170.2 L873.4,1167.8 L875.3,1165.3 L877.3,1163.0 L879.4,1160.8 L881.5,1158.6 L883.8,1156.6 L886.0,1154.6 L888.4,1152.7 L890.7,1150.9 L893.2,1149.2 L895.7,1147.6 L898.2,1146.1 L900.8,1144.7 L903.4,1143.5 L906.1,1142.3 L908.8,1141.2 L911.5,1140.2 L914.2,1139.4 L917.0,1138.7 L919.8,1138.0 L922.6,1137.5 L925.4,1137.1 L928.3,1136.8 L931.1,1136.7 L933.9,1136.6 L936.8,1136.7 L939.6,1136.8 L942.5,1137.1 L945.3,1137.5 L948.1,1138.0 L950.9,1138.7 L953.7,1139.4 L956.4,1140.2 L959.1,1141.2 L961.8,1142.3 L987.9,1153.3 L990.2,1154.4 L992.5,1155.5 L994.8,1156.7 L997.0,1158.0 L999.2,1159.4 L1001.3,1160.9 L1003.4,1162.4 L1005.4,1164.1 L1007.4,1165.8 L1009.4,1167.6 L1011.2,1169.5 L1013.1,1171.5 L1014.8,1173.5 L1016.5,1175.6 L1018.2,1177.8 L1019.7,1180.0 L1021.2,1182.3 L1022.7,1184.7 L1024.0,1187.1 L1025.3,1189.5 L1026.5,1192.1 L1027.6,1194.6 L1028.7,1197.2 L1029.7,1199.9 L1030.6,1202.6 L1031.4,1205.3 L1032.1,1208.0 L1032.7,1210.8 L1033.3,1213.6 L1033.8,1216.4 L1034.2,1219.3 L1034.5,1222.1 L1034.7,1225.0 L1034.8,1227.9 L1034.9,1230.8 L1034.8,1233.6 L1034.7,1236.5 L1034.5,1239.4 L1034.2,1242.2 L1033.8,1245.1 L1033.3,1247.9 L1032.7,1250.7 L1032.1,1253.5 L1031.4,1256.2 L1030.6,1258.9 L1029.7,1261.6 L1028.7,1264.3 L1027.6,1266.9 L1026.5,1269.4 L1025.3,1272.0 L1024.0,1274.4 L1022.7,1276.8 L1021.2,1279.2 L1019.7,1281.5 L1018.2,1283.7 L1016.5,1285.9 L1014.8,1288.0 L1013.1,1290.0 L1011.2,1292.0 L1009.4,1293.9 L1007.4,1295.7 L1005.4,1297.4 L1003.4,1299.1 L1001.3,1300.6 L999.2,1302.1 L997.0,1303.5 L994.8,1304.8 L992.5,1306.0 L990.2,1307.1 L987.9,1308.2 L961.8,1319.2 L959.1,1320.3 L956.4,1321.3 L953.7,1322.1 L950.9,1322.8 L948.1,1323.5 L945.3,1324.0 L942.5,1324.4 L939.6,1324.7 L936.8,1324.8 L933.9,1324.9 L931.1,1324.8 L928.3,1324.7 L925.4,1324.4 L922.6,1324.0 L919.8,1323.5 L917.0,1322.8 L914.2,1322.1 L911.5,1321.3 L908.8,1320.3 L906.1,1319.2 L903.4,1318.0 L900.8,1316.8 L898.2,1315.4 L895.7,1313.9 L893.2,1312.3 L890.7,1310.6 L888.4,1308.8 L886.0,1306.9 L883.8,1304.9 L881.5,1302.9 L879.4,1300.7 L877.3,1298.5 L875.3,1296.2 L873.4,1293.7 L871.5,1291.3 L869.7,1288.7 L868.0,1286.1 L866.4,1283.4 L864.8,1280.6 L863.3,1277.8 L862.0,1275.0 L860.7,1272.0 L859.5,1269.0 L858.4,1266.0 L857.3,1263.0 L856.4,1259.8 L855.6,1256.7 L854.8,1253.5 L854.2,1250.3 L853.7,1247.1 L853.2,1243.9 L852.9,1240.6 L852.6,1237.3 L852.5,1234.0Z" fill="#fff" stroke="#000" stroke-width="2.2"/>
<path d="M1015.5,1230.8 L1015.4,1234.0 L1015.3,1237.3 L1015.0,1240.6 L1014.7,1243.9 L1014.2,1247.1 L1013.7,1250.3 L1013.1,1253.5 L1012.3,1256.7 L1011.5,1259.8 L1010.6,1263.0 L1009.5,1266.0 L1008.4,1269.0 L1007.2,1272.0 L1005.9,1275.0 L1004.6,1277.8 L1003.1,1280.6 L1001.5,1283.4 L999.9,1286.1 L998.2,1288.7 L996.4,1291.3 L994.5,1293.7 L992.6,1296.2 L990.6,1298.5 L988.5,1300.7 L986.4,1302.9 L984.1,1304.9 L981.9,1306.9 L979.5,1308.8 L977.2,1310.6 L974.7,1312.3 L972.2,1313.9 L969.7,1315.4 L967.1,1316.8 L964.5,1318.0 L961.8,1319.2 L959.1,1320.3 L956.4,1321.3 L953.7,1322.1 L950.9,1322.8 L948.1,1323.5 L945.3,1324.0 L942.5,1324.4 L939.6,1324.7 L936.8,1324.8 L933.9,1324.9 L931.1,1324.8 L928.3,1324.7 L925.4,1324.4 L922.6,1324.0 L919.8,1323.5 L917.0,1322.8 L914.2,1322.1 L911.5,1321.3 L908.8,1320.3 L906.1,1319.2 L903.4,1318.0 L900.8,1316.8 L898.2,1315.4 L895.7,1313.9 L893.2,1312.3 L890.7,1310.6 L888.4,1308.8 L886.0,1306.9 L883.8,1304.9 L881.5,1302.9 L879.4,1300.7 L877.3,1298.5 L875.3,1296.2 L873.4,1293.7 L871.5,1291.3 L869.7,1288.7 L868.0,1286.1 L866.4,1283.4 L864.8,1280.6 L863.3,1277.8 L862.0,1275.0 L860.7,1272.0 L859.5,1269.0 L858.4,1266.0 L857.3,1263.0 L856.4,1259.8 L855.6,1256.7 L854.8,1253.5 L854.2,1250.3 L853.7,1247.1 L853.2,1243.9 L852.9,1240.6 L852.6,1237.3 L852.5,1234.0 L852.4,1230.8 L852.5,1227.5 L852.6,1224.2 L852.9,1220.9 L853.2,1217.6 L853.7,1214.4 L854.2,1211.2 L854.8,1208.0 L855.6,1204.8 L856.4,1201.7 L857.3,1198.5 L858.4,1195.5 L859.5,1192.5 L860.7,1189.5 L862.0,1186.5 L863.3,1183.7 L864.8,1180.9 L866.4,1178.1 L868.0,1175.4 L869.7,1172.8 L871.5,1170.2 L873.4,1167.8 L875.3,1165.3 L877.3,1163.0 L879.4,1160.8 L881.5,1158.6 L883.8,1156.6 L886.0,1154.6 L888.4,1152.7 L890.7,1150.9 L893.2,1149.2 L895.7,1147.6 L898.2,1146.1 L900.8,1144.7 L903.4,1143.5 L906.1,1142.3 L908.8,1141.2 L911.5,1140.2 L914.2,1139.4 L917.0,1138.7 L919.8,1138.0 L922.6,1137.5 L925.4,1137.1 L928.3,1136.8 L931.1,1136.7 L933.9,1136.6 L936.8,1136.7 L939.6,1136.8 L942.5,1137.1 L945.3,1137.5 L948.1,1138.0 L950.9,1138.7 L953.7,1139.4 L956.4,1140.2 L959.1,1141.2 L961.8,1142.3 L964.5,1143.5 L967.1,1144.7 L969.7,1146.1 L972.2,1147.6 L974.7,1149.2 L977.2,1150.9 L979.5,1152.7 L981.9,1154.6 L984.1,1156.6 L986.4,1158.6 L988.5,1160.8 L990.6,1163.0 L992.6,1165.3 L994.5,1167.8 L996.4,1170.2 L998.2,1172.8 L999.9,1175.4 L1001.5,1178.1 L1003.1,1180.9 L1004.6,1183.7 L1005.9,1186.5 L1007.2,1189.5 L1008.4,1192.5 L1009.5,1195.5 L1010.6,1198.5 L1011.5,1201.7 L1012.3,1204.8 L1013.1,1208.0 L1013.7,1211.2 L1014.2,1214.4 L1014.7,1217.6 L1015.0,1220.9 L1015.3,1224.2 L1015.4,1227.5Z" fill="none" stroke="#000" stroke-width="2.2"/>
<path d="M822.9,1230.8 L822.9,1227.5 L823.1,1224.2 L823.3,1220.9 L823.7,1217.6 L824.1,1214.4 L824.6,1211.2 L825.3,1208.0 L826.0,1204.8 L826.9,1201.7 L827.8,1198.5 L828.8,1195.5 L829.9,1192.5 L831.1,1189.5 L832.4,1186.5 L833.8,1183.7 L835.3,1180.9 L836.8,1178.1 L838.4,1175.4 L840.1,1172.8 L841.9,1170.2 L843.8,1167.8 L845.7,1165.3 L847.8,1163.0 L849.8,1160.8 L852.0,1158.6 L854.2,1156.6 L856.5,1154.6 L858.8,1152.7 L861.2,1150.9 L863.6,1149.2 L866.1,1147.6 L868.7,1146.1 L871.2,1144.7 L873.9,1143.5 L876.5,1142.3 L879.2,1141.2 L881.9,1140.2 L884.7,1139.4 L887.4,1138.7 L890.2,1138.0 L893.1,1137.5 L895.9,1137.1 L898.7,1136.8 L901.6,1136.7 L904.4,1136.6 L907.2,1136.7 L910.1,1136.8 L912.9,1137.1 L915.7,1137.5 L918.6,1138.0 L921.4,1138.7 L924.1,1139.4 L926.9,1140.2 L929.6,1141.2 L932.3,1142.3 L958.4,1153.3 L960.7,1154.4 L963.0,1155.5 L965.2,1156.7 L967.5,1158.0 L969.6,1159.4 L971.8,1160.9 L973.9,1162.4 L975.9,1164.1 L977.9,1165.8 L979.8,1167.6 L981.7,1169.5 L983.5,1171.5 L985.3,1173.5 L987.0,1175.6 L988.6,1177.8 L990.2,1180.0 L991.7,1182.3 L993.1,1184.7 L994.5,1187.1 L995.7,1189.5 L997.0,1192.1 L998.1,1194.6 L999.1,1197.2 L1000.1,1199.9 L1001.0,1202.6 L1001.8,1205.3 L1002.5,1208.0 L1003.2,1210.8 L1003.8,1213.6 L1004.2,1216.4 L1004.6,1219.3 L1004.9,1222.1 L1005.1,1225.0 L1005.3,1227.9 L1005.3,1230.8 L1005.3,1233.6 L1005.1,1236.5 L1004.9,1239.4 L1004.6,1242.2 L1004.2,1245.1 L1003.8,1247.9 L1003.2,1250.7 L1002.5,1253.5 L1001.8,1256.2 L1001.0,1258.9 L1000.1,1261.6 L999.1,1264.3 L998.1,1266.9 L997.0,1269.4 L995.7,1272.0 L994.5,1274.4 L993.1,1276.8 L991.7,1279.2 L990.2,1281.5 L988.6,1283.7 L987.0,1285.9 L985.3,1288.0 L983.5,1290.0 L981.7,1292.0 L979.8,1293.9 L977.9,1295.7 L975.9,1297.4 L973.9,1299.1 L971.8,1300.6 L969.6,1302.1 L967.5,1303.5 L965.2,1304.8 L963.0,1306.0 L960.7,1307.1 L958.4,1308.2 L932.3,1319.2 L929.6,1320.3 L926.9,1321.3 L924.1,1322.1 L921.4,1322.8 L918.6,1323.5 L915.7,1324.0 L912.9,1324.4 L910.1,1324.7 L907.2,1324.8 L904.4,1324.9 L901.6,1324.8 L898.7,1324.7 L895.9,1324.4 L893.1,1324.0 L890.2,1323.5 L887.4,1322.8 L884.7,1322.1 L881.9,1321.3 L879.2,1320.3 L876.5,1319.2 L873.9,1318.0 L871.2,1316.8 L868.7,1315.4 L866.1,1313.9 L863.6,1312.3 L861.2,1310.6 L858.8,1308.8 L856.5,1306.9 L854.2,1304.9 L852.0,1302.9 L849.8,1300.7 L847.8,1298.5 L845.7,1296.2 L843.8,1293.7 L841.9,1291.3 L840.1,1288.7 L838.4,1286.1 L836.8,1283.4 L835.3,1280.6 L833.8,1277.8 L832.4,1275.0 L831.1,1272.0 L829.9,1269.0 L828.8,1266.0 L827.8,1263.0 L826.9,1259.8 L826.0,1256.7 L825.3,1253.5 L824.6,1250.3 L824.1,1247.1 L823.7,1243.9 L823.3,1240.6 L823.1,1237.3 L822.9,1234.0Z" fill="#fff" stroke="#000" stroke-width="2.2"/>
<path d="M985.9,1230.8 L985.9,1234.0 L985.7,1237.3 L985.5,1240.6 L985.1,1243.9 L984.7,1247.1 L984.2,1250.3 L983.5,1253.5 L982.8,1256.7 L981.9,1259.8 L981.0,1263.0 L980.0,1266.0 L978.9,1269.0 L977.7,1272.0 L976.4,1275.0 L975.0,1277.8 L973.5,1280.6 L972.0,1283.4 L970.4,1286.1 L968.7,1288.7 L966.9,1291.3 L965.0,1293.7 L963.1,1296.2 L961.0,1298.5 L959.0,1300.7 L956.8,1302.9 L954.6,1304.9 L952.3,1306.9 L950.0,1308.8 L947.6,1310.6 L945.2,1312.3 L942.7,1313.9 L940.1,1315.4 L937.6,1316.8 L934.9,1318.0 L932.3,1319.2 L929.6,1320.3 L926.9,1321.3 L924.1,1322.1 L921.4,1322.8 L918.6,1323.5 L915.7,1324.0 L912.9,1324.4 L910.1,1324.7 L907.2,1324.8 L904.4,1324.9 L901.6,1324.8 L898.7,1324.7 L895.9,1324.4 L893.1,1324.0 L890.2,1323.5 L887.4,1322.8 L884.7,1322.1 L881.9,1321.3 L879.2,1320.3 L876.5,1319.2 L873.9,1318.0 L871.2,1316.8 L868.7,1315.4 L866.1,1313.9 L863.6,1312.3 L861.2,1310.6 L858.8,1308.8 L856.5,1306.9 L854.2,1304.9 L852.0,1302.9 L849.8,1300.7 L847.8,1298.5 L845.7,1296.2 L843.8,1293.7 L841.9,1291.3 L840.1,1288.7 L838.4,1286.1 L836.8,1283.4 L835.3,1280.6 L833.8,1277.8 L832.4,1275.0 L831.1,1272.0 L829.9,1269.0 L828.8,1266.0 L827.8,1263.0 L826.9,1259.8 L826.0,1256.7 L825.3,1253.5 L824.6,1250.3 L824.1,1247.1 L823.7,1243.9 L823.3,1240.6 L823.1,1237.3 L822.9,1234.0 L822.9,1230.8 L822.9,1227.5 L823.1,1224.2 L823.3,1220.9 L823.7,1217.6 L824.1,1214.4 L824.6,1211.2 L825.3,1208.0 L826.0,1204.8 L826.9,1201.7 L827.8,1198.5 L828.8,1195.5 L829.9,1192.5 L831.1,1189.5 L832.4,1186.5 L833.8,1183.7 L835.3,1180.9 L836.8,1178.1 L838.4,1175.4 L840.1,1172.8 L841.9,1170.2 L843.8,1167.8 L845.7,1165.3 L847.8,1163.0 L849.8,1160.8 L852.0,1158.6 L854.2,1156.6 L856.5,1154.6 L858.8,1152.7 L861.2,1150.9 L863.6,1149.2 L866.1,1147.6 L868.7,1146.1 L871.2,1144.7 L873.9,1143.5 L876.5,1142.3 L879.2,1141.2 L881.9,1140.2 L884.7,1139.4 L887.4,1138.7 L890.2,1138.0 L893.1,1137.5 L895.9,1137.1 L898.7,1136.8 L901.6,1136.7 L904.4,1136.6 L907.2,1136.7 L910.1,1136.8 L912.9,1137.1 L915.7,1137.5 L918.6,1138.0 L921.4,1138.7 L924.1,1139.4 L926.9,1140.2 L929.6,1141.2 L932.3,1142.3 L934.9,1143.5 L937.6,1144.7 L940.1,1146.1 L942.7,1147.6 L945.2,1149.2 L947.6,1150.9 L950.0,1152.7 L952.3,1154.6 L954.6,1156.6 L956.8,1158.6 L959.0,1160.8 L961.0,1163.0 L963.1,1165.3 L965.0,1167.8 L966.9,1170.2 L968.7,1172.8 L970.4,1175.4 L972.0,1178.1 L973.5,1180.9 L975.0,1183.7 L976.4,1186.5 L977.7,1189.5 L978.9,1192.5 L980.0,1195.5 L981.0,1198.5 L981.9,1201.7 L982.8,1204.8 L983.5,1208.0 L984.2,1211.2 L984.7,1214.4 L985.1,1217.6 L985.5,1220.9 L985.7,1224.2 L985.9,1227.5Z" fill="none" stroke="#000" stroke-width="2.2"/>
<path d="M793.3,1230.8 L793.4,1227.5 L793.5,1224.2 L793.8,1220.9 L794.1,1217.6 L794.6,1214.4 L795.1,1211.2 L795.7,1208.0 L796.5,1204.8 L797.3,1201.7 L798.2,1198.5 L799.3,1195.5 L800.4,1192.5 L801.6,1189.5 L802.9,1186.5 L804.2,1183.7 L805.7,1180.9 L807.3,1178.1 L808.9,1175.4 L810.6,1172.8 L812.4,1170.2 L814.3,1167.8 L816.2,1165.3 L818.2,1163.0 L820.3,1160.8 L822.4,1158.6 L824.7,1156.6 L826.9,1154.6 L829.3,1152.7 L831.6,1150.9 L834.1,1149.2 L836.6,1147.6 L839.1,1146.1 L841.7,1144.7 L844.3,1143.5 L847.0,1142.3 L849.7,1141.2 L852.4,1140.2 L855.1,1139.4 L857.9,1138.7 L860.7,1138.0 L863.5,1137.5 L866.3,1137.1 L869.2,1136.8 L872.0,1136.7 L874.8,1136.6 L877.7,1136.7 L880.5,1136.8 L883.4,1137.1 L886.2,1137.5 L889.0,1138.0 L891.8,1138.7 L894.6,1139.4 L897.3,1140.2 L900.0,1141.2 L902.7,1142.3 L928.8,1153.3 L931.1,1154.4 L933.4,1155.5 L935.7,1156.7 L937.9,1158.0 L940.1,1159.4 L942.2,1160.9 L944.3,1162.4 L946.3,1164.1 L948.3,1165.8 L950.3,1167.6 L952.1,1169.5 L954.0,1171.5 L955.7,1173.5 L957.4,1175.6 L959.1,1177.8 L960.6,1180.0 L962.1,1182.3 L963.6,1184.7 L964.9,1187.1 L966.2,1189.5 L967.4,1192.1 L968.5,1194.6 L969.6,1197.2 L970.6,1199.9 L971.5,1202.6 L972.3,1205.3 L973.0,1208.0 L973.6,1210.8 L974.2,1213.6 L974.7,1216.4 L975.1,1219.3 L975.4,1222.1 L975.6,1225.0 L975.7,1227.9 L975.8,1230.8 L975.7,1233.6 L975.6,1236.5 L975.4,1239.4 L975.1,1242.2 L974.7,1245.1 L974.2,1247.9 L973.6,1250.7 L973.0,1253.5 L972.3,1256.2 L971.5,1258.9 L970.6,1261.6 L969.6,1264.3 L968.5,1266.9 L967.4,1269.4 L966.2,1272.0 L964.9,1274.4 L963.6,1276.8 L962.1,1279.2 L960.6,1281.5 L959.1,1283.7 L957.4,1285.9 L955.7,1288.0 L954.0,1290.0 L952.1,1292.0 L950.3,1293.9 L948.3,1295.7 L946.3,1297.4 L944.3,1299.1 L942.2,1300.6 L940.1,1302.1 L937.9,1303.5 L935.7,1304.8 L933.4,1306.0 L931.1,1307.1 L928.8,1308.2 L902.7,1319.2 L900.0,1320.3 L897.3,1321.3 L894.6,1322.1 L891.8,1322.8 L889.0,1323.5 L886.2,1324.0 L883.4,1324.4 L880.5,1324.7 L877.7,1324.8 L874.8,1324.9 L872.0,1324.8 L869.2,1324.7 L866.3,1324.4 L863.5,1324.0 L860.7,1323.5 L857.9,1322.8 L855.1,1322.1 L852.4,1321.3 L849.7,1320.3 L847.0,1319.2 L844.3,1318.0 L841.7,1316.8 L839.1,1315.4 L836.6,1313.9 L834.1,1312.3 L831.6,1310.6 L829.3,1308.8 L826.9,1306.9 L824.7,1304.9 L822.4,1302.9 L820.3,1300.7 L818.2,1298.5 L816.2,1296.2 L814.3,1293.7 L812.4,1291.3 L810.6,1288.7 L808.9,1286.1 L807.3,1283.4 L805.7,1280.6 L804.2,1277.8 L802.9,1275.0 L801.6,1272.0 L800.4,1269.0 L799.3,1266.0 L798.2,1263.0 L797.3,1259.8 L796.5,1256.7 L795.7,1253.5 L795.1,1250.3 L794.6,1247.1 L794.1,1243.9 L793.8,1240.6 L793.5,1237.3 L793.4,1234.0Z" fill="#fff" stroke="#000" stroke-width="2.2"/>
<path d="M956.4,1230.8 L956.3,1234.0 L956.2,1237.3 L955.9,1240.6 L955.6,1243.9 L955.1,1247.1 L954.6,1250.3 L954.0,1253.5 L953.2,1256.7 L952.4,1259.8 L951.5,1263.0 L950.4,1266.0 L949.3,1269.0 L948.1,1272.0 L946.8,1275.0 L945.5,1277.8 L944.0,1280.6 L942.4,1283.4 L940.8,1286.1 L939.1,1288.7 L937.3,1291.3 L935.4,1293.7 L933.5,1296.2 L931.5,1298.5 L929.4,1300.7 L927.3,1302.9 L925.0,1304.9 L922.8,1306.9 L920.4,1308.8 L918.1,1310.6 L915.6,1312.3 L913.1,1313.9 L910.6,1315.4 L908.0,1316.8 L905.4,1318.0 L902.7,1319.2 L900.0,1320.3 L897.3,1321.3 L894.6,1322.1 L891.8,1322.8 L889.0,1323.5 L886.2,1324.0 L883.4,1324.4 L880.5,1324.7 L877.7,1324.8 L874.8,1324.9 L872.0,1324.8 L869.2,1324.7 L866.3,1324.4 L863.5,1324.0 L860.7,1323.5 L857.9,1322.8 L855.1,1322.1 L852.4,1321.3 L849.7,1320.3 L847.0,1319.2 L844.3,1318.0 L841.7,1316.8 L839.1,1315.4 L836.6,1313.9 L834.1,1312.3 L831.6,1310.6 L829.3,1308.8 L826.9,1306.9 L824.7,1304.9 L822.4,1302.9 L820.3,1300.7 L818.2,1298.5 L816.2,1296.2 L814.3,1293.7 L812.4,1291.3 L810.6,1288.7 L808.9,1286.1 L807.3,1283.4 L805.7,1280.6 L804.2,1277.8 L802.9,1275.0 L801.6,1272.0 L800.4,1269.0 L799.3,1266.0 L798.2,1263.0 L797.3,1259.8 L796.5,1256.7 L795.7,1253.5 L795.1,1250.3 L794.6,1247.1 L794.1,1243.9 L793.8,1240.6 L793.5,1237.3 L793.4,1234.0 L793.3,1230.8 L793.4,1227.5 L793.5,1224.2 L793.8,1220.9 L794.1,1217.6 L794.6,1214.4 L795.1,1211.2 L795.7,1208.0 L796.5,1204.8 L797.3,1201.7 L798.2,1198.5 L799.3,1195.5 L800.4,1192.5 L801.6,1189.5 L802.9,1186.5 L804.2,1183.7 L805.7,1180.9 L807.3,1178.1 L808.9,1175.4 L810.6,1172.8 L812.4,1170.2 L814.3,1167.8 L816.2,1165.3 L818.2,1163.0 L820.3,1160.8 L822.4,1158.6 L824.7,1156.6 L826.9,1154.6 L829.3,1152.7 L831.6,1150.9 L834.1,1149.2 L836.6,1147.6 L839.1,1146.1 L841.7,1144.7 L844.3,1143.5 L847.0,1142.3 L849.7,1141.2 L852.4,1140.2 L855.1,1139.4 L857.9,1138.7 L860.7,1138.0 L863.5,1137.5 L866.3,1137.1 L869.2,1136.8 L872.0,1136.7 L874.8,1136.6 L877.7,1136.7 L880.5,1136.8 L883.4,1137.1 L886.2,1137.5 L889.0,1138.0 L891.8,1138.7 L894.6,1139.4 L897.3,1140.2 L900.0,1141.2 L902.7,1142.3 L905.4,1143.5 L908.0,1144.7 L910.6,1146.1 L913.1,1147.6 L915.6,1149.2 L918.1,1150.9 L920.4,1152.7 L922.8,1154.6 L925.0,1156.6 L927.3,1158.6 L929.4,1160.8 L931.5,1163.0 L933.5,1165.3 L935.4,1167.8 L937.3,1170.2 L939.1,1172.8 L940.8,1175.4 L942.4,1178.1 L944.0,1180.9 L945.5,1183.7 L946.8,1186.5 L948.1,1189.5 L949.3,1192.5 L950.4,1195.5 L951.5,1198.5 L952.4,1201.7 L953.2,1204.8 L954.0,1208.0 L954.6,1211.2 L955.1,1214.4 L955.6,1217.6 L955.9,1220.9 L956.2,1224.2 L956.3,1227.5Z" fill="none" stroke="#000" stroke-width="2.2"/>
<path d="M710.0,1148.3 L874.8,1148.3 L877.3,1148.4 L879.8,1148.6 L882.3,1148.8 L884.8,1149.2 L887.2,1149.6 L889.7,1150.2 L892.1,1150.8 L894.5,1151.5 L896.9,1152.4 L899.3,1153.3 L901.6,1154.4 L903.9,1155.5 L906.1,1156.7 L908.4,1158.0 L910.5,1159.4 L912.7,1160.9 L914.8,1162.4 L916.8,1164.1 L918.8,1165.8 L920.7,1167.6 L922.6,1169.5 L924.4,1171.5 L926.2,1173.5 L927.9,1175.6 L929.5,1177.8 L931.1,1180.0 L932.6,1182.3 L934.0,1184.7 L935.4,1187.1 L936.6,1189.5 L937.9,1192.1 L939.0,1194.6 L940.0,1197.2 L941.0,1199.9 L941.9,1202.6 L942.7,1205.3 L943.4,1208.0 L944.1,1210.8 L944.7,1213.6 L945.1,1216.4 L945.5,1219.3 L945.8,1222.1 L946.0,1225.0 L946.2,1227.9 L946.2,1230.8 L946.2,1233.6 L946.0,1236.5 L945.8,1239.4 L945.5,1242.2 L945.1,1245.1 L944.7,1247.9 L944.1,1250.7 L943.4,1253.5 L942.7,1256.2 L941.9,1258.9 L941.0,1261.6 L940.0,1264.3 L939.0,1266.9 L937.9,1269.4 L936.6,1272.0 L935.4,1274.4 L934.0,1276.8 L932.6,1279.2 L931.1,1281.5 L929.5,1283.7 L927.9,1285.9 L926.2,1288.0 L924.4,1290.0 L922.6,1292.0 L920.7,1293.9 L918.8,1295.7 L916.8,1297.4 L914.8,1299.1 L912.7,1300.6 L910.5,1302.1 L908.4,1303.5 L906.1,1304.8 L903.9,1306.0 L901.6,1307.1 L899.3,1308.2 L896.9,1309.1 L894.5,1310.0 L892.1,1310.7 L889.7,1311.3 L887.2,1311.9 L884.8,1312.3 L882.3,1312.7 L879.8,1312.9 L877.3,1313.1 L874.8,1313.2 L710.0,1313.2Z" fill="#fff" stroke="#000" stroke-width="2.2"/>
<circle cx="710.05" cy="1230.75" r="94.2" fill="#fff" stroke="#000" stroke-width="2.2"/>
<circle cx="710.05" cy="1230.75" r="82.6" fill="none" stroke="#000" stroke-width="2.2"/>
<circle cx="710.05" cy="1230.75" r="66.8" fill="none" stroke="#000" stroke-width="2.2"/>
<line x1="812" y1="1292.3" x2="858" y2="1338.6" stroke="#fff" stroke-width="10.5"/>
</g>
<polyline points="355.4,13.3 355.4,160" fill="none" stroke="#3a84b0" stroke-width="1.6"/>
<polyline points="1064.4,13.3 1064.4,160" fill="none" stroke="#3a84b0" stroke-width="1.6"/>
<polyline points="355.4,48.4 627,48.4" fill="none" stroke="#3a84b0" stroke-width="1.6"/>
<polyline points="792.5,48.4 1064.4,48.4" fill="none" stroke="#3a84b0" stroke-width="1.6"/>
<polygon points="355.6,48.4 381.6,41.4 381.6,55.4" fill="#1a8fd5"/>
<polygon points="1064.2,48.4 1038.2,55.4 1038.2,41.4" fill="#1a8fd5"/>
<polyline points="228.5,99.6 350,99.6" fill="none" stroke="#3a84b0" stroke-width="1.6"/>
<polyline points="361,99.6 472.2,99.6" fill="none" stroke="#3a84b0" stroke-width="1.6"/>
<polyline points="228.9,989.2 606.9,989.2" fill="none" stroke="#3a84b0" stroke-width="1.6"/>
<polyline points="308.8,100 308.8,511" fill="none" stroke="#3a84b0" stroke-width="1.6"/>
<polyline points="308.8,577 308.8,988.5" fill="none" stroke="#3a84b0" stroke-width="1.6"/>
<polygon points="308.8,99.8 315.8,125.8 301.8,125.8" fill="#1a8fd5"/>
<polygon points="308.8,989 301.8,963 315.8,963" fill="#1a8fd5"/>
<polyline points="438.2,630.8 670.8,630.8" fill="none" stroke="#3a84b0" stroke-width="1.6"/>
<polyline points="520.3,631 520.3,776.7" fill="none" stroke="#3a84b0" stroke-width="1.6"/>
<polyline points="520.3,842.6 520.3,988.5" fill="none" stroke="#3a84b0" stroke-width="1.6"/>
<polygon points="520.3,631 527.3,657 513.3,657" fill="#1a8fd5"/>
<polygon points="520.3,989 513.3,963 527.3,963" fill="#1a8fd5"/>
<polyline points="578.38,223.59 581.3,222.01 584.24,220.47 587.19,218.96 590.17,217.48 593.16,216.05 596.16,214.65 599.19,213.28 602.23,211.95 605.29,210.66 608.36,209.41 611.45,208.2 614.55,207.02 617.66,205.88 620.79,204.78 623.93,203.71 627.09,202.68 630.26,201.7 633.44,200.75 636.63,199.84 639.83,198.97 643.04,198.13 646.26,197.34 649.49,196.58 652.73,195.87" fill="none" stroke="#3a84b0" stroke-width="1.6"/>
<polygon points="578.38,223.59 597.8,204.93 604.54,217.2" fill="#1a8fd5"/>
<polyline points="767.27,195.87 770.51,196.58 773.74,197.34 776.96,198.13 780.17,198.97 783.37,199.84 786.56,200.75 789.74,201.7 792.91,202.68 796.07,203.71 799.21,204.78 802.34,205.88 805.45,207.02 808.55,208.2 811.64,209.41 814.71,210.66 817.77,211.95 820.81,213.28 823.84,214.65 826.84,216.05 829.83,217.48 832.81,218.96 835.76,220.47 838.7,222.01 841.62,223.59" fill="none" stroke="#3a84b0" stroke-width="1.6"/>
<polygon points="841.62,223.59 815.46,217.2 822.2,204.93" fill="#1a8fd5"/>
<polyline points="1073.8,186.8 1216.8,269.2" fill="none" stroke="#3a84b0" stroke-width="1.6"/>
<polyline points="803.2,657.2 946.2,739.9" fill="none" stroke="#3a84b0" stroke-width="1.6"/>
<polyline points="1144.9,229 1028.2,430.9" fill="none" stroke="#3a84b0" stroke-width="1.6"/>
<polyline points="990.5,496.1 874.4,697.6" fill="none" stroke="#3a84b0" stroke-width="1.6"/>
<polygon points="1144.9,229 1137.96,255.02 1125.84,248.02" fill="#1a8fd5"/>
<polygon points="874.4,697.6 881.34,671.58 893.46,678.58" fill="#1a8fd5"/>
<polyline points="616.7,1001.6 616.7,1104" fill="none" stroke="#3a84b0" stroke-width="1.6"/>
<polyline points="804.2,1001.6 804.2,1104" fill="none" stroke="#3a84b0" stroke-width="1.6"/>
<polyline points="616.7,1052.4 859.9,1052.4" fill="none" stroke="#3a84b0" stroke-width="1.6"/>
<polygon points="616.9,1052.4 642.9,1045.4 642.9,1059.4" fill="#1a8fd5"/>
<polygon points="804,1052.4 778,1059.4 778,1045.4" fill="#1a8fd5"/>
<polyline points="776,1256.1 888.2,1369 999.4,1369" fill="none" stroke="#3a84b0" stroke-width="1.6"/>
<polygon points="776,1256.1 799.29,1269.61 789.36,1279.48" fill="#1a8fd5"/>
<g fill="#1a8fd5" font-family="&quot;Liberation Sans&quot;, sans-serif" font-weight="bold">
<text transform="translate(641.93 69.8) scale(0.5961 0.5929)" font-size="100" stroke="#fff" stroke-width="2.018">2</text>
<polygon points="682.13,29.1 688,29.1 688,52.7 682.25,52.7 682.25,33.58 677.08,35.47 676.5,32.64" fill="#1a8fd5"/>
<polygon points="699.13,29.1 705,29.1 705,52.7 699.25,52.7 699.25,33.58 694.08,35.47 693.5,32.64" fill="#1a8fd5"/>
<polygon points="721.5,29 725.5,29 703.3,69.7 699.3,69.7" fill="#1a8fd5"/>
<polygon points="723.89,45.7 729.7,45.7 729.7,69.4 724,69.4 724,50.2 718.87,52.1 718.3,49.26" fill="#1a8fd5"/>
<text transform="translate(734.64 69.04) scale(0.3543 0.3351)" font-size="100" stroke="#1a8fd5" stroke-width="1.949">6</text>
<polygon points="757.5,27.6 764.13,27.6 762.94,42.8 758.35,42.8" fill="#1a8fd5"/>
<polygon points="767.87,27.6 774.5,27.6 773.48,42.8 768.72,42.8" fill="#1a8fd5"/>
<text transform="translate(257.23 565.24) scale(0.5512 0.5849)" font-size="100" stroke="#fff" stroke-width="2.112">3</text>
<text transform="translate(289.66 547.99) scale(0.3440 0.3242)" font-size="100" stroke="#1a8fd5" stroke-width="2.095">3</text>
<polygon points="321.5,524.7 326.3,524.7 304.1,565.7 299.3,565.7" fill="#1a8fd5"/>
<text transform="translate(317.83 564.63) scale(0.3525 0.3234)" font-size="100" stroke="#1a8fd5" stroke-width="2.071">8</text>
<polygon points="340.8,523.5 347.59,523.5 346.37,538.7 341.67,538.7" fill="#1a8fd5"/>
<polygon points="351.41,523.5 358.2,523.5 357.16,538.7 352.28,538.7" fill="#1a8fd5"/>
<text transform="translate(666.35 211.62) scale(0.6144 0.5932)" font-size="100" stroke="#fff" stroke-width="1.987">6</text>
<text transform="translate(698.46 211.63) scale(0.6182 0.5876)" font-size="100" stroke="#fff" stroke-width="1.990">0</text>
<text transform="translate(732.28 206.39) scale(0.5400 0.5266)" font-size="100" stroke="#1a8fd5" stroke-width="1.313">°</text>
<text transform="translate(957.25 485.4) scale(0.5920 0.5929)" font-size="100" stroke="#fff" stroke-width="2.026">2</text>
<polygon points="998.45,444.6 1003.6,444.6 1003.6,468 998.55,468 998.55,449.05 994,450.92 993.5,448.11" fill="#1a8fd5"/>
<polygon points="1022,444.2 1026.2,444.2 1004.9,485.3 1000.7,485.3" fill="#1a8fd5"/>
<text transform="translate(1015.98 484.55) scale(0.3771 0.3387)" font-size="100" stroke="#1a8fd5" stroke-width="1.956">4</text>
<polygon points="1043.1,443.5 1049.42,443.5 1048.28,458.4 1043.91,458.4" fill="#1a8fd5"/>
<polygon points="1052.98,443.5 1059.3,443.5 1058.33,458.4 1053.79,458.4" fill="#1a8fd5"/>
<polygon points="481.99,791.4 490.1,791.4 490.1,830.9 482.15,830.9 482.15,798.9 475,802.06 474.2,797.32" fill="#1a8fd5"/>
<text transform="translate(501.89 813.48) scale(0.3319 0.3256)" font-size="100" stroke="#1a8fd5" stroke-width="2.129">3</text>
<polygon points="535.9,790.4 540.1,790.4 514.5,831.6 510.3,831.6" fill="#1a8fd5"/>
<text transform="translate(529.33 830.99) scale(0.3884 0.3541)" font-size="100" stroke="#1a8fd5" stroke-width="1.422">8</text>
<polygon points="552.7,789.5 559.45,789.5 558.24,804.2 553.57,804.2" fill="#1a8fd5"/>
<polygon points="563.25,789.5 570,789.5 568.96,804.2 564.12,804.2" fill="#1a8fd5"/>
<path fill-rule="evenodd" fill="#1a8fd5" d="M876.3,1057.4 a15,14.9 0 1,0 30,0 a15,14.9 0 1,0 -30,0Z M883.3,1057.4 a8,9.6 0 1,0 16,0 a8,9.6 0 1,0 -16,0Z"/>
<line x1="880.2" y1="1074.2" x2="903.4" y2="1041.1" stroke="#1a8fd5" stroke-width="3"/>
<text transform="translate(922.62 1055.19) scale(0.3621 0.3228)" font-size="100" stroke="#1a8fd5" stroke-width="2.044">3</text>
<polygon points="954.8,1032.2 959,1032.2 938.7,1072.7 934.5,1072.7" fill="#1a8fd5"/>
<text transform="translate(947.47 1071.85) scale(0.3846 0.3343)" font-size="100" stroke="#1a8fd5" stroke-width="1.947">4</text>
<polygon points="973.4,1030.3 979.91,1030.3 978.74,1045.6 974.24,1045.6" fill="#1a8fd5"/>
<polygon points="983.59,1030.3 990.1,1030.3 989.1,1045.6 984.42,1045.6" fill="#1a8fd5"/>
<path fill-rule="evenodd" fill="#1a8fd5" d="M1012.6,1375.1 a15.05,15.1 0 1,0 30.1,0 a15.05,15.1 0 1,0 -30.1,0Z M1019.65,1375.1 a8,9.7 0 1,0 16,0 a8,9.7 0 1,0 -16,0Z"/>
<line x1="1015.5" y1="1391.2" x2="1040.5" y2="1359.2" stroke="#1a8fd5" stroke-width="3"/>
<text transform="translate(1058.32 1372.63) scale(0.3551 0.3277)" font-size="100" stroke="#1a8fd5" stroke-width="2.050">9</text>
<polygon points="1091.55,1349.7 1095.85,1349.7 1073.45,1390.6 1069.15,1390.6" fill="#1a8fd5"/>
<polygon points="1093.19,1366.6 1098.6,1366.6 1098.6,1390.2 1093.3,1390.2 1093.3,1371.08 1088.53,1372.97 1088,1370.14" fill="#1a8fd5"/>
<text transform="translate(1103.19 1389.95) scale(0.3652 0.3383)" font-size="100" stroke="#1a8fd5" stroke-width="1.842">6</text>
<polygon points="1127.6,1348.2 1134.15,1348.2 1132.98,1363.2 1128.44,1363.2" fill="#1a8fd5"/>
<polygon points="1137.85,1348.2 1144.4,1348.2 1143.39,1363.2 1138.69,1363.2" fill="#1a8fd5"/>
<text transform="translate(1158.83 1390.6) scale(0.6387 0.6192)" font-size="100" stroke="#fff" stroke-width="1.908">I</text>
<circle cx="1184" cy="1385.6" r="4.7" fill="#1a8fd5"/>
<text transform="translate(1190.92 1390.6) scale(0.5805 0.6192)" font-size="100" stroke="#fff" stroke-width="2.001">D</text>
<circle cx="1238.1" cy="1385.6" r="4.7" fill="#1a8fd5"/>
</g>
</svg>
</body></html>
